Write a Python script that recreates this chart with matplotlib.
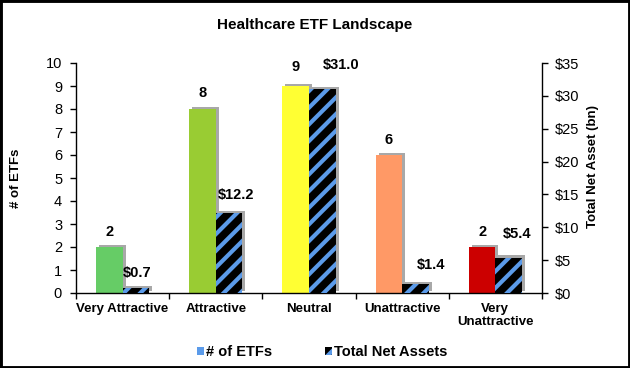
import matplotlib
matplotlib.use('Agg')
import matplotlib.pyplot as plt
import matplotlib.patheffects as pe
from matplotlib.patches import Patch, Rectangle
from matplotlib.ticker import FuncFormatter
import numpy as np

plt.rcParams['font.family'] = ['Liberation Sans', 'DejaVu Sans']
plt.rcParams['hatch.linewidth'] = 3.0

# data
categories = ['Very Attractive', 'Attractive', 'Neutral', 'Unattractive', 'Very\nUnattractive']
etf_counts = [2, 8, 9, 6, 2]
net_assets = [0.7, 12.2, 31.0, 1.4, 5.4]
count_colors = ['#66CC66', '#99CC33', '#FFFF33', '#FF9966', '#CC0000']
asset_blue = '#5B9BEA'

# label nudges (pixels), Excel placed them a bit unevenly
count_dy = [15, 16, 19, 15, 15]
asset_dx = [1, 7, 19, 16, 8]
asset_dy = [15, 18, 24, 19, 24]

fig = plt.figure(figsize=(6.3, 3.68), dpi=100)
ax = fig.add_axes([76 / 630, 1 - 293 / 368, 466 / 630, 230 / 368])
ax2 = ax.twinx()

x = np.arange(len(categories))
w = 0.285

shadow = [pe.SimplePatchShadow(offset=(2.2, 1.6), shadow_rgbFace='#999999', alpha=0.85, hatch=None), pe.Normal()]
ax.bar(x - w / 2, etf_counts, w, color=count_colors, linewidth=0, path_effects=shadow)
hb = ax2.bar(x + w / 2, net_assets, w, facecolor='black', edgecolor=asset_blue, linewidth=0,
             hatch='//', path_effects=shadow)
for p in hb:
    p.set_hatch_linewidth(3.0)

# axis limits / ticks
ax.set_xlim(-0.5, 4.5)
ax.set_ylim(0, 10)
ax.set_yticks(range(0, 11))
ax2.set_ylim(0, 35)
ax2.set_yticks(range(0, 36, 5))
ax2.yaxis.set_major_formatter(FuncFormatter(lambda v, p: f'${v:.0f}'))

ax.set_xticks(x)
ax.set_xticklabels(categories, fontweight='bold', fontsize=9.5, linespacing=1.1)
ax.set_xticks(np.arange(-0.5, 5, 1), minor=True)
ax.tick_params(axis='x', which='major', length=0, pad=7)
ax.tick_params(axis='x', which='minor', length=4, width=1)
ax.tick_params(axis='y', length=4, width=1, pad=6, labelsize=10.5)
ax2.tick_params(axis='y', length=4, width=1, pad=5, labelsize=10.5)

for a in (ax, ax2):
    a.spines['top'].set_visible(False)
    for s in a.spines.values():
        s.set_linewidth(1.0)
ax.spines['right'].set_visible(False)
ax2.spines['left'].set_visible(False)
ax2.spines['bottom'].set_visible(False)

ax.set_ylabel('# of ETFs', fontweight='bold', fontsize=9.5)
ax.yaxis.set_label_coords(-0.116, 0.5)
ax2.set_ylabel('Total Net Asset (bn)', fontweight='bold', fontsize=9.5)
ax2.yaxis.set_label_coords(1.097, 0.55)

# value labels
for xi, v, dy in zip(x, etf_counts, count_dy):
    ax.annotate(f'{v}', (xi - w / 2, v), xytext=(0, dy), textcoords='offset pixels',
                ha='center', va='center', fontweight='bold', fontsize=10.5)
for xi, v, dx, dy in zip(x, net_assets, asset_dx, asset_dy):
    ax2.annotate(f'${v:.1f}', (xi + w / 2, v), xytext=(dx, dy), textcoords='offset pixels',
                 ha='center', va='center', fontweight='bold', fontsize=10.5)

fig.text(0.5, 1 - 25 / 368, 'Healthcare ETF Landscape', ha='center', va='center',
         fontweight='bold', fontsize=11)

handles = [Patch(facecolor=asset_blue, linewidth=0),
           Patch(facecolor='black', edgecolor=asset_blue, linewidth=0, hatch='//')]
fig.legend(handles, ['# of ETFs', 'Total Net Assets'], loc='center',
           bbox_to_anchor=(322 / 630, 1 - 352 / 368), ncol=2, frameon=False,
           prop={'weight': 'bold', 'size': 10.5}, handlelength=0.5, handleheight=0.5,
           handletextpad=0.15, columnspacing=3.6)

# outer frame
fig.patches.append(Rectangle((0, 0), 1, 1, transform=fig.transFigure, fill=False,
                             edgecolor='black', linewidth=3.5))

fig.savefig('out.png', dpi=100)
